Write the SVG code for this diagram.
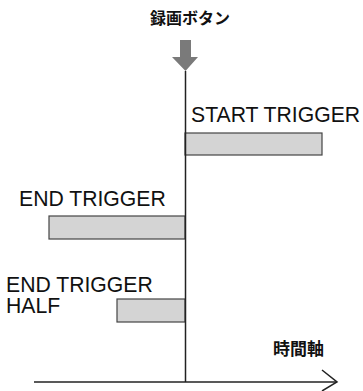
<svg xmlns="http://www.w3.org/2000/svg" width="363" height="391" viewBox="0 0 363 391">
<style>
.lbl{font-family:"Liberation Sans",Arial,sans-serif;font-size:21.2px;fill:#111}
.jp{font-family:"Noto Sans CJK JP",sans-serif;font-weight:bold;fill:#111}
.bar{fill:#d4d4d4;stroke:#444;stroke-width:1.2}
.ln{stroke:#222;stroke-width:1.5;fill:none}
</style>
<rect width="363" height="391" fill="#fff"/>
<g id="title"><text class="jp" x="190" y="24" font-size="16" text-anchor="middle">録画ボタン</text></g>
<g id="button-arrow"><polygon points="180,40 191,40 191,57 198,57 185.5,71 172,57 180,57" fill="#7a7a7a"/></g>
<g id="start-trigger">
<text class="lbl" x="191" y="121.5">START TRIGGER</text>
<rect class="bar" x="185" y="133" width="137" height="22"/>
</g>
<g id="end-trigger">
<text class="lbl" x="19" y="206">END TRIGGER</text>
<rect class="bar" x="49" y="216" width="136" height="23"/>
</g>
<g id="end-trigger-half">
<text class="lbl" x="6" y="292">END TRIGGER</text>
<text class="lbl" x="6" y="313">HALF</text>
<rect class="bar" x="117" y="299" width="68" height="23"/>
</g>
<g id="time-axis-label"><text class="jp" x="273" y="355" font-size="17">時間軸</text></g>
<g id="connectors">
<line class="ln" x1="185.5" y1="71" x2="185.5" y2="382"/>
<line class="ln" x1="34" y1="382" x2="337" y2="382"/>
<polyline class="ln" points="322,370 337,382 322,391"/>
</g>
</svg>
